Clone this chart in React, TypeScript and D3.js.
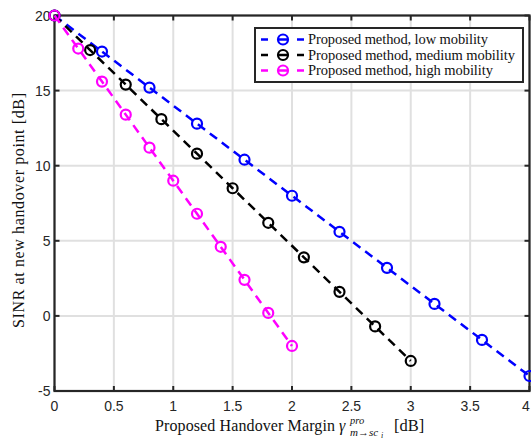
import React from "react";
import * as d3 from "d3";

const lowX = [0, 0.4, 0.8, 1.2, 1.6, 2.0, 2.4, 2.8, 3.2, 3.6, 4.0];
const lowY = [20, 17.6, 15.2, 12.8, 10.4, 8.0, 5.6, 3.2, 0.8, -1.6, -4.0];
const medX = [0, 0.3, 0.6, 0.9, 1.2, 1.5, 1.8, 2.1, 2.4, 2.7, 3.0];
const medY = [20, 17.7, 15.4, 13.1, 10.8, 8.5, 6.2, 3.9, 1.6, -0.7, -3.0];
const highX = [0, 0.2, 0.4, 0.6, 0.8, 1.0, 1.2, 1.4, 1.6, 1.8, 2.0];
const highY = [20, 17.8, 15.6, 13.4, 11.2, 9.0, 6.8, 4.6, 2.4, 0.2, -2.0];

const xTicks = [0, 0.5, 1, 1.5, 2, 2.5, 3, 3.5, 4];
const yTicks = [-5, 0, 5, 10, 15, 20];

const seriesNames = [
  "Proposed method, low mobility",
  "Proposed method, medium mobility",
  "Proposed method, high mobility",
];
const seriesColors = ["#0000ff", "#000000", "#ff00ff"];
const legendWidths = [180, 207, 185];

const W = 531;
const H = 439;
const L = 54.5;
const R = 529.5;
const T = 15.5;
const B = 391;

export default function App() {
  const x = d3.scaleLinear().domain([0, 4]).range([L, R]);
  const y = d3.scaleLinear().domain([-5, 20]).range([B, T]);
  const line = d3
    .line<[number, number]>()
    .x((d) => x(d[0]))
    .y((d) => y(d[1]));

  const series = [
    { xs: lowX, ys: lowY },
    { xs: medX, ys: medY },
    { xs: highX, ys: highY },
  ].map((s, i) => ({
    pts: s.xs.map((v, j) => [v, s.ys[j]] as [number, number]),
    color: seriesColors[i],
    name: seriesNames[i],
  }));

  const axisColor = "#262626";
  const sans = "'Liberation Sans', Arial, sans-serif";
  const serif = "'Liberation Serif', 'Times New Roman', serif";

  const legX = 255;
  const legY = 28;
  const legW = 268;
  const legH = 54;
  const rowYs = [39.5, 55, 70.5];

  return (
    <svg
      width={W}
      height={H}
      style={{ position: "absolute", left: 0, top: 0, background: "#fff" }}
    >
      <rect x={0} y={0} width={W} height={H} fill="#fff" />
      {/* grid */}
      {xTicks.map((t) => (
        <line
          key={"gx" + t}
          x1={x(t)}
          x2={x(t)}
          y1={T}
          y2={B}
          stroke="#e0e0e0"
          strokeWidth={2}
        />
      ))}
      {yTicks.map((t) => (
        <line
          key={"gy" + t}
          x1={L}
          x2={R}
          y1={y(t)}
          y2={y(t)}
          stroke="#e0e0e0"
          strokeWidth={2}
        />
      ))}
      {/* ticks */}
      {xTicks.map((t) => (
        <g key={"tx" + t}>
          <line x1={x(t)} x2={x(t)} y1={B} y2={B - 5} stroke={axisColor} strokeWidth={2} />
          <line x1={x(t)} x2={x(t)} y1={T} y2={T + 5} stroke={axisColor} strokeWidth={2} />
          <text
            x={Math.min(x(t), W - 5)}
            y={B + 20}
            textAnchor="middle"
            fontFamily={sans}
            fontSize={14}
            fill={axisColor}
          >
            {t}
          </text>
        </g>
      ))}
      {yTicks.map((t) => (
        <g key={"ty" + t}>
          <line x1={L} x2={L + 5} y1={y(t)} y2={y(t)} stroke={axisColor} strokeWidth={2} />
          <line x1={R} x2={R - 5} y1={y(t)} y2={y(t)} stroke={axisColor} strokeWidth={2} />
          <text
            x={L - 4}
            y={y(t) + 5}
            textAnchor="end"
            fontFamily={sans}
            fontSize={14}
            fill={axisColor}
          >
            {t}
          </text>
        </g>
      ))}
      {/* axes box */}
      <rect
        x={L}
        y={T}
        width={R - L}
        height={B - T}
        fill="none"
        stroke={axisColor}
        strokeWidth={2.2}
      />
      {/* series */}
      {series.map((s) => (
        <g key={s.name}>
          <path
            d={line(s.pts) || ""}
            fill="none"
            stroke={s.color}
            strokeWidth={2.5}
            strokeDasharray="9,6"
          />
          {s.pts.map((p, j) => (
            <circle
              key={j}
              cx={x(p[0])}
              cy={y(p[1])}
              r={5}
              fill="none"
              stroke={s.color}
              strokeWidth={2.2}
            />
          ))}
        </g>
      ))}
      {/* legend */}
      <rect
        x={legX}
        y={legY}
        width={legW}
        height={legH}
        fill="#fff"
        stroke={axisColor}
        strokeWidth={2}
      />
      {series.map((s, i) => (
        <g key={"leg" + i}>
          <line x1={261} x2={268} y1={rowYs[i]} y2={rowYs[i]} stroke={s.color} strokeWidth={2.5} />
          <line x1={297} x2={304} y1={rowYs[i]} y2={rowYs[i]} stroke={s.color} strokeWidth={2.5} />
          <circle cx={283} cy={rowYs[i]} r={5} fill="none" stroke={s.color} strokeWidth={2.2} />
          <line x1={279} x2={287} y1={rowYs[i]} y2={rowYs[i]} stroke={s.color} strokeWidth={2.5} />
          <text
            x={308}
            y={rowYs[i] + 4.5}
            fontFamily={serif}
            fontSize={14.5}
            fill="#111"
            textLength={legendWidths[i]}
            lengthAdjust="spacing"
          >
            {s.name}
          </text>
        </g>
      ))}
      {/* x label */}
      <g fontFamily={serif} fill="#111">
        <text
          x={155}
          y={431}
          fontSize={16}
          textLength={180}
          lengthAdjust="spacing"
        >
          Proposed Handover Margin
        </text>
        <text x={339} y={431} fontSize={16} fontStyle="italic">
          γ
        </text>
        <text x={350} y={424} fontSize={10.5} fontStyle="italic">
          pro
        </text>
        <text x={350} y={436} fontSize={11} fontStyle="italic">
          {"m→sc"}
        </text>
        <text x={381} y={438} fontSize={8} fontStyle="italic">
          i
        </text>
        <text x={394} y={431} fontSize={16.5}>
          [dB]
        </text>
      </g>
      {/* y label */}
      <text
        transform={`translate(24,210.5) rotate(-90)`}
        textAnchor="middle"
        fontFamily={serif}
        fontSize={16}
        fill="#111"
        textLength={235}
        lengthAdjust="spacing"
      >
        SINR at new handover point [dB]
      </text>
    </svg>
  );
}
